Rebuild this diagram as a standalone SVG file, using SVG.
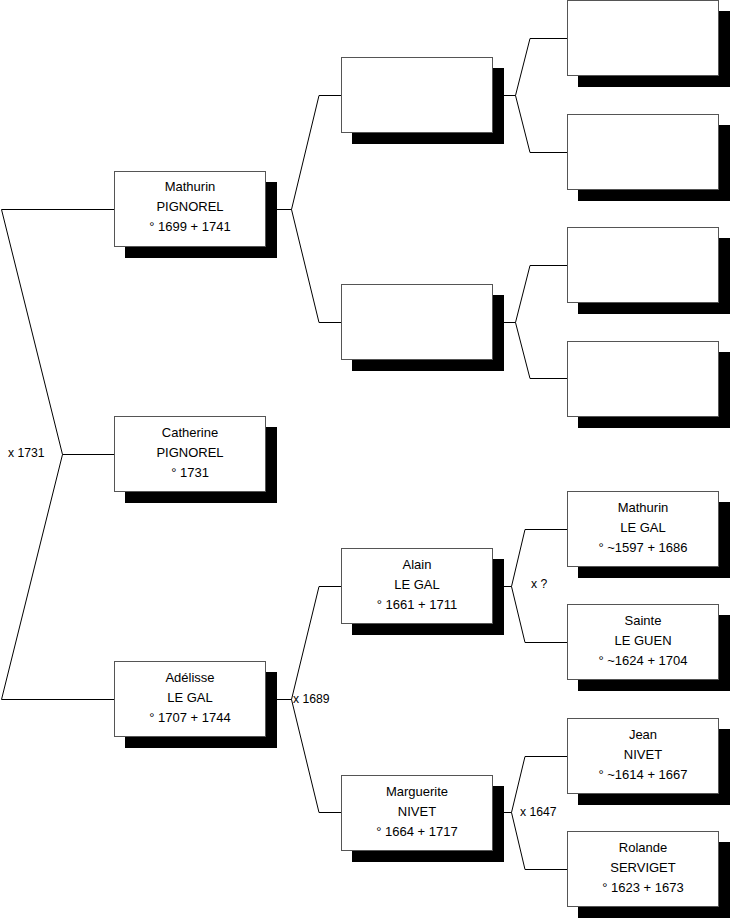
<svg xmlns="http://www.w3.org/2000/svg" width="731" height="920" viewBox="0 0 731 920">
<style>
.bg{fill:#fff}
.c{fill:none;stroke:#000;stroke-width:1}
.sh{fill:#000}
.bx{fill:#fff;stroke:#555;stroke-width:1}
.t{font-family:"Liberation Sans",Arial,sans-serif;font-size:13px;fill:#000;text-anchor:middle}
.l{font-family:"Liberation Sans",Arial,sans-serif;font-size:12.2px;fill:#000}
</style>
<defs>
<g id="box">
<rect class="sh" x="11" y="11" width="152" height="76"/>
<rect class="bx" x="0.5" y="0.5" width="151" height="75"/>
</g>
</defs>
<rect class="bg" x="0" y="0" width="731" height="920"/>
<g id="connectors">
<path class="c" d="M1.5,209.5 H114.5 M1.5,209.5 L62.5,454.5 L1.5,699.5 H114.5 M62.5,454.5 H114.5"/>
<path class="c" d="M265.5,209.5 H291.5 M341.5,95.5 H319 L291.5,209.5 L319,322.5 H341.5"/>
<path class="c" d="M265.5,699.5 H291.5 M341.5,586.5 H319 L291.5,699.5 L319,812.5 H341.5"/>
<path class="c" d="M492.5,95.5 H515.5 M567.5,38.5 H530 L515.5,95.5 L530,152.5 H567.5"/>
<path class="c" d="M492.5,322.5 H515.5 M567.5,265.5 H530 L515.5,322.5 L530,378.5 H567.5"/>
<path class="c" d="M492.5,586.5 H511.5 M567.5,529.5 H525 L511.5,586.5 L525,642.5 H567.5"/>
<path class="c" d="M492.5,812.5 H511.5 M567.5,756.5 H525 L511.5,812.5 L525,869.5 H567.5"/>
<text class="l" x="8" y="457">x 1731</text>
<text class="l" x="293" y="703">x 1689</text>
<text class="l" x="531" y="588">x ?</text>
<text class="l" x="520" y="816">x 1647</text>
</g>
<g id="mathurin-pignorel" transform="translate(114,171)">
<use href="#box"/>
<text class="t" x="76" y="20">Mathurin</text>
<text class="t" x="76" y="40">PIGNOREL</text>
<text class="t" x="76" y="60">° 1699 + 1741</text>
</g>
<g id="catherine-pignorel" transform="translate(114,416)">
<use href="#box"/>
<text class="t" x="76" y="21">Catherine</text>
<text class="t" x="76" y="41">PIGNOREL</text>
<text class="t" x="76" y="61">° 1731</text>
</g>
<g id="adelisse-le-gal" transform="translate(114,661)">
<use href="#box"/>
<text class="t" x="76" y="21">Adélisse</text>
<text class="t" x="76" y="41">LE GAL</text>
<text class="t" x="76" y="61">° 1707 + 1744</text>
</g>
<g id="p2a" transform="translate(341,57)"><use href="#box"/></g>
<g id="p2b" transform="translate(341,284)"><use href="#box"/></g>
<g id="alain-le-gal" transform="translate(341,548)">
<use href="#box"/>
<text class="t" x="76" y="21">Alain</text>
<text class="t" x="76" y="41">LE GAL</text>
<text class="t" x="76" y="61">° 1661 + 1711</text>
</g>
<g id="marguerite-nivet" transform="translate(341,775)">
<use href="#box"/>
<text class="t" x="76" y="21">Marguerite</text>
<text class="t" x="76" y="41">NIVET</text>
<text class="t" x="76" y="61">° 1664 + 1717</text>
</g>
<g id="p3a" transform="translate(567,0)"><use href="#box"/></g>
<g id="p3b" transform="translate(567,114)"><use href="#box"/></g>
<g id="p3c" transform="translate(567,227)"><use href="#box"/></g>
<g id="p3d" transform="translate(567,341)"><use href="#box"/></g>
<g id="mathurin-le-gal" transform="translate(567,491)">
<use href="#box"/>
<text class="t" x="76" y="21">Mathurin</text>
<text class="t" x="76" y="41">LE GAL</text>
<text class="t" x="76" y="61">° ~1597 + 1686</text>
</g>
<g id="sainte-le-guen" transform="translate(567,604)">
<use href="#box"/>
<text class="t" x="76" y="21">Sainte</text>
<text class="t" x="76" y="41">LE GUEN</text>
<text class="t" x="76" y="61">° ~1624 + 1704</text>
</g>
<g id="jean-nivet" transform="translate(567,718)">
<use href="#box"/>
<text class="t" x="76" y="21">Jean</text>
<text class="t" x="76" y="41">NIVET</text>
<text class="t" x="76" y="61">° ~1614 + 1667</text>
</g>
<g id="rolande-serviget" transform="translate(567,831)">
<use href="#box"/>
<text class="t" x="76" y="21">Rolande</text>
<text class="t" x="76" y="41">SERVIGET</text>
<text class="t" x="76" y="61">° 1623 + 1673</text>
</g>
</svg>
